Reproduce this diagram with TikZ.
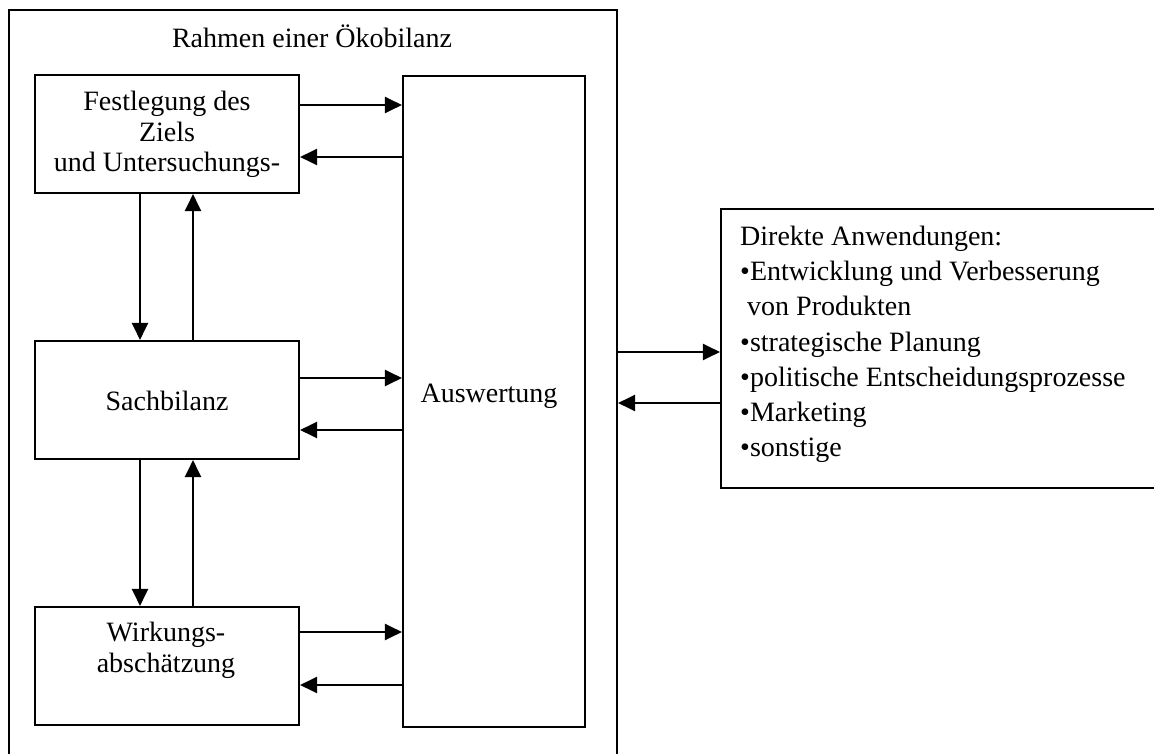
\documentclass[tikz,border=0pt]{standalone}
\usepackage{fontspec}
\setmainfont{Liberation Serif}
\usetikzlibrary{arrows.meta}
\begin{document}
\begin{tikzpicture}[x=1pt,y=-1pt,
  box/.style={draw=black, line width=2.1pt, rectangle, inner sep=0pt},
  txt/.style={inner sep=0pt, font=\fontsize{28}{31}\selectfont},
  arr/.style={line width=2.1pt, -{Triangle[length=17pt,width=16pt]}}]
% page area; the outer frame and the application box run past its edges
\path[use as bounding box, clip] (0,0) rectangle (1154,754);
\fill[white] (0,0) rectangle (1154,754);

% outer frame
\node[box, minimum width=608pt, minimum height=790pt] (rahmen) at (313,405) {};
\node[txt, anchor=base] (titel) at (312,48) {Rahmen einer Ökobilanz};

% phase boxes
\node[box, minimum width=264pt, minimum height=118pt] (fest) at (167,134) {};
\node[box, minimum width=264pt, minimum height=118pt] (sach) at (167,400) {};
\node[box, minimum width=264pt, minimum height=118pt] (wirk) at (167,666) {};
\node[box, minimum width=182pt, minimum height=651pt] (ausw) at (494,401.5) {};

\node[txt, anchor=base] (fest1) at (167,111) {Festlegung des};
\node[txt, anchor=base] (fest2) at (167,141.5) {Ziels};
\node[txt, anchor=base] (fest3) at (167,172) {und Untersuchungs-};
\node[txt, anchor=base] (sacht) at (167,410) {Sachbilanz};
\node[txt, anchor=base] (wirk1) at (166,641) {Wirkungs-};
\node[txt, anchor=base] (wirk2) at (166,672) {abschätzung};
\node[txt, anchor=base] (auswt) at (489,402) {Auswertung};

% applications box
\node[box, minimum width=559pt, minimum height=279pt] (anw) at (1000.5,348.5) {};
\node[txt, anchor=base west] (anw0) at (740,245) {Direkte Anwendungen:};
\node[txt, anchor=base west] (anw1) at (740,280) {•Entwicklung und Verbesserung};
\node[txt, anchor=base west] (anw2) at (747,315) {von Produkten};
\node[txt, anchor=base west] (anw3) at (740,351) {•strategische Planung};
\node[txt, anchor=base west] (anw4) at (740,386) {•politische Entscheidungsprozesse};
\node[txt, anchor=base west] (anw5) at (740,421) {•Marketing};
\node[txt, anchor=base west] (anw6) at (740,456) {•sonstige};

% phases <-> interpretation
\draw[arr] (fest.east |- 0,105) -- (ausw.west |- 0,105);
\draw[arr] (ausw.west |- 0,157) -- (fest.east |- 0,157);
\draw[arr] (sach.east |- 0,378) -- (ausw.west |- 0,378);
\draw[arr] (ausw.west |- 0,430) -- (sach.east |- 0,430);
\draw[arr] (wirk.east |- 0,632) -- (ausw.west |- 0,632);
\draw[arr] (ausw.west |- 0,685) -- (wirk.east |- 0,685);

% phases among each other
\draw[arr] (fest.south -| 140,0) -- (sach.north -| 140,0);
\draw[arr] (sach.north -| 193,0) -- (fest.south -| 193,0);
\draw[arr] (sach.south -| 140,0) -- (wirk.north -| 140,0);
\draw[arr] (wirk.north -| 193,0) -- (sach.south -| 193,0);

% frame <-> applications
\draw[arr] (rahmen.east |- 0,352) -- (anw.west |- 0,352);
\draw[arr] (anw.west |- 0,403) -- (rahmen.east |- 0,403);
\end{tikzpicture}
\end{document}
